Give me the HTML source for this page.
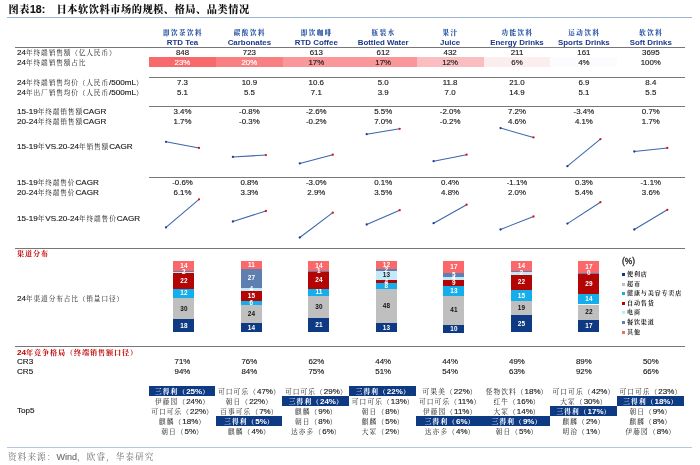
<!DOCTYPE html><html lang="zh"><head><meta charset="utf-8"><title>图表18</title><style>
html,body{margin:0;padding:0;background:#fff;}
body{width:700px;height:465px;position:relative;overflow:hidden;font-family:"Liberation Sans", "Noto Serif CJK SC", sans-serif;color:#1a1a1a;-webkit-text-stroke:0.15px currentColor;}
.t{position:absolute;white-space:nowrap;line-height:10px;height:10px;font-size:8.1px;}
.l{left:17px;}
.c{text-align:center;width:67px;font-size:7.9px;}
.ln{position:absolute;height:1px;background:#777;}
.hz{color:#2a55a5;font-weight:bold;-webkit-text-stroke:0;text-indent:1px;}
.he{color:#1c3a8c;font-weight:bold;font-size:7.9px;-webkit-text-stroke:0;}
.red{color:#c00000;font-weight:bold;-webkit-text-stroke:0;}
.seg{position:absolute;width:21px;}
.sl{position:absolute;width:21px;text-align:center;font-size:6.4px;font-weight:bold;line-height:8px;height:8px;-webkit-text-stroke:0;}
.hl{position:absolute;background:#0e3a83;}
.w{color:#fff;font-weight:bold;-webkit-text-stroke:0;}
.lg{position:absolute;font-size:7.2px;line-height:10px;height:10px;white-space:nowrap;left:627px;}
.k{font-weight:inherit;font-size:6.7px;letter-spacing:0.85px;-webkit-text-stroke:0;}
.red .k{font-size:7.1px;letter-spacing:0.9px;}
.t5{font-size:8px;}
.t5 .k{letter-spacing:1.1px;}
.hz .k{font-size:6.5px;letter-spacing:1.55px;font-weight:900;}
.ti .k{font-size:10.2px;letter-spacing:0.55px;font-weight:900;}
.src .k{font-size:8.6px;letter-spacing:1.1px;}
.lg .k{font-size:6.1px;letter-spacing:0.8px;font-weight:700;}
.lg i{position:absolute;left:-5.5px;top:3.5px;width:3px;height:3px;}

</style></head><body>
<div class="t ti" style="left:8.5px;top:2.4px;font-size:10.5px;line-height:14px;height:14px;font-weight:bold;color:#111"><b class="k">图表</b>18:</div>
<div class="t ti" style="left:56.5px;top:2.4px;font-size:10.5px;line-height:14px;height:14px;font-weight:bold;color:#111"><b class="k">日本软饮料市场的规模、格局、品类情况</b></div>
<div class="ln" style="left:7px;width:685px;top:16.6px;background:#9db4d3"></div>
<div class="ln" style="left:7px;width:685px;top:446.5px;background:#b5c7e0"></div>
<div class="t src" style="left:8px;top:450.5px;font-size:9px;line-height:12px;height:12px;color:#707070"><b class="k">资料来源：</b>Wind<b class="k">，欧睿，华泰研究</b></div>
<div class="ln" style="left:15px;width:669.5px;top:46.8px"></div>
<div class="ln" style="left:149px;width:535.5px;top:76.9px"></div>
<div class="ln" style="left:149px;width:535.5px;top:106.3px"></div>
<div class="ln" style="left:149px;width:535.5px;top:177.1px"></div>
<div class="ln" style="left:15px;width:669.5px;top:247.8px"></div>
<div class="ln" style="left:15px;width:669.5px;top:345.8px"></div>
<div class="t c hz" style="left:149.0px;top:28px"><b class="k">即饮茶饮料</b></div>
<div class="t c he" style="left:149.0px;top:38px">RTD Tea</div>
<div class="t c hz" style="left:215.9px;top:28px"><b class="k">碳酸饮料</b></div>
<div class="t c he" style="left:215.9px;top:38px">Carbonates</div>
<div class="t c hz" style="left:282.8px;top:28px"><b class="k">即饮咖啡</b></div>
<div class="t c he" style="left:282.8px;top:38px">RTD Coffee</div>
<div class="t c hz" style="left:349.7px;top:28px"><b class="k">瓶装水</b></div>
<div class="t c he" style="left:349.7px;top:38px">Bottled Water</div>
<div class="t c hz" style="left:416.6px;top:28px"><b class="k">果汁</b></div>
<div class="t c he" style="left:416.6px;top:38px">Juice</div>
<div class="t c hz" style="left:483.5px;top:28px"><b class="k">功能饮料</b></div>
<div class="t c he" style="left:483.5px;top:38px">Energy Drinks</div>
<div class="t c hz" style="left:550.4px;top:28px"><b class="k">运动饮料</b></div>
<div class="t c he" style="left:550.4px;top:38px">Sports Drinks</div>
<div class="t c hz" style="left:617.3px;top:28px"><b class="k">软饮料</b></div>
<div class="t c he" style="left:617.3px;top:38px">Soft Drinks</div>
<div style="position:absolute;left:149.0px;top:57.4px;width:67.0px;height:9.7px;background:#F8696B"></div>
<div style="position:absolute;left:215.9px;top:57.4px;width:67.0px;height:9.7px;background:#F98082"></div>
<div style="position:absolute;left:282.8px;top:57.4px;width:67.0px;height:9.7px;background:#F9979A"></div>
<div style="position:absolute;left:349.7px;top:57.4px;width:67.0px;height:9.7px;background:#F9979A"></div>
<div style="position:absolute;left:416.6px;top:57.4px;width:67.0px;height:9.7px;background:#FABEC1"></div>
<div style="position:absolute;left:483.5px;top:57.4px;width:67.0px;height:9.7px;background:#FCEDEF"></div>
<div style="position:absolute;left:550.4px;top:57.4px;width:67.0px;height:9.7px;background:#FCFCFF"></div>
<div class="t l" style="top:48px">24<b class="k">年终端销售额（亿人民币）</b></div>
<div class="t c" style="left:149.0px;top:48px">848</div>
<div class="t c" style="left:215.9px;top:48px">723</div>
<div class="t c" style="left:282.8px;top:48px">613</div>
<div class="t c" style="left:349.7px;top:48px">612</div>
<div class="t c" style="left:416.6px;top:48px">432</div>
<div class="t c" style="left:483.5px;top:48px">211</div>
<div class="t c" style="left:550.4px;top:48px">161</div>
<div class="t c" style="left:617.3px;top:48px">3695</div>
<div class="t l" style="top:58px">24<b class="k">年终端销售额占比</b></div>
<div class="t c" style="left:149.0px;top:58px;color:#fff">23%</div>
<div class="t c" style="left:215.9px;top:58px;color:#fff">20%</div>
<div class="t c" style="left:282.8px;top:58px">17%</div>
<div class="t c" style="left:349.7px;top:58px">17%</div>
<div class="t c" style="left:416.6px;top:58px">12%</div>
<div class="t c" style="left:483.5px;top:58px">6%</div>
<div class="t c" style="left:550.4px;top:58px">4%</div>
<div class="t c" style="left:617.3px;top:58px">100%</div>
<div class="t l" style="top:78px">24<b class="k">年终端销售均价（人民币</b>/500mL<b class="k">）</b></div>
<div class="t c" style="left:149.0px;top:78px">7.3</div>
<div class="t c" style="left:215.9px;top:78px">10.9</div>
<div class="t c" style="left:282.8px;top:78px">10.6</div>
<div class="t c" style="left:349.7px;top:78px">5.0</div>
<div class="t c" style="left:416.6px;top:78px">11.8</div>
<div class="t c" style="left:483.5px;top:78px">21.0</div>
<div class="t c" style="left:550.4px;top:78px">6.9</div>
<div class="t c" style="left:617.3px;top:78px">8.4</div>
<div class="t l" style="top:88px">24<b class="k">年出厂销售均价（人民币</b>/500mL<b class="k">）</b></div>
<div class="t c" style="left:149.0px;top:88px">5.1</div>
<div class="t c" style="left:215.9px;top:88px">5.5</div>
<div class="t c" style="left:282.8px;top:88px">7.1</div>
<div class="t c" style="left:349.7px;top:88px">3.9</div>
<div class="t c" style="left:416.6px;top:88px">7.0</div>
<div class="t c" style="left:483.5px;top:88px">14.9</div>
<div class="t c" style="left:550.4px;top:88px">5.1</div>
<div class="t c" style="left:617.3px;top:88px">5.5</div>
<div class="t l" style="top:107px">15-19<b class="k">年终端销售额</b>CAGR</div>
<div class="t c" style="left:149.0px;top:107px">3.4%</div>
<div class="t c" style="left:215.9px;top:107px">-0.8%</div>
<div class="t c" style="left:282.8px;top:107px">-2.6%</div>
<div class="t c" style="left:349.7px;top:107px">5.5%</div>
<div class="t c" style="left:416.6px;top:107px">-2.0%</div>
<div class="t c" style="left:483.5px;top:107px">7.2%</div>
<div class="t c" style="left:550.4px;top:107px">-3.4%</div>
<div class="t c" style="left:617.3px;top:107px">0.7%</div>
<div class="t l" style="top:117px">20-24<b class="k">年终端销售额</b>CAGR</div>
<div class="t c" style="left:149.0px;top:117px">1.7%</div>
<div class="t c" style="left:215.9px;top:117px">-0.3%</div>
<div class="t c" style="left:282.8px;top:117px">-0.2%</div>
<div class="t c" style="left:349.7px;top:117px">7.0%</div>
<div class="t c" style="left:416.6px;top:117px">-0.2%</div>
<div class="t c" style="left:483.5px;top:117px">4.6%</div>
<div class="t c" style="left:550.4px;top:117px">4.1%</div>
<div class="t c" style="left:617.3px;top:117px">1.7%</div>
<div class="t l" style="top:142px">15-19<b class="k">年</b>VS.20-24<b class="k">年销售额</b>CAGR</div>
<div class="t l" style="top:178px">15-19<b class="k">年终端售价</b>CAGR</div>
<div class="t c" style="left:149.0px;top:178px">-0.6%</div>
<div class="t c" style="left:215.9px;top:178px">0.8%</div>
<div class="t c" style="left:282.8px;top:178px">-3.0%</div>
<div class="t c" style="left:349.7px;top:178px">0.1%</div>
<div class="t c" style="left:416.6px;top:178px">0.4%</div>
<div class="t c" style="left:483.5px;top:178px">-1.1%</div>
<div class="t c" style="left:550.4px;top:178px">0.3%</div>
<div class="t c" style="left:617.3px;top:178px">-1.1%</div>
<div class="t l" style="top:188px">20-24<b class="k">年终端售价</b>CAGR</div>
<div class="t c" style="left:149.0px;top:188px">6.1%</div>
<div class="t c" style="left:215.9px;top:188px">3.3%</div>
<div class="t c" style="left:282.8px;top:188px">2.9%</div>
<div class="t c" style="left:349.7px;top:188px">3.5%</div>
<div class="t c" style="left:416.6px;top:188px">4.8%</div>
<div class="t c" style="left:483.5px;top:188px">2.0%</div>
<div class="t c" style="left:550.4px;top:188px">5.4%</div>
<div class="t c" style="left:617.3px;top:188px">3.6%</div>
<div class="t l" style="top:214px">15-19<b class="k">年</b>VS.20-24<b class="k">年终端售价</b>CAGR</div>
<div class="t l" style="top:249px"><span class="red"><b class="k">渠道分布</b></span></div>
<div class="t l" style="top:294px">24<b class="k">年渠道分布占比（销量口径）</b></div>
<div class="t l" style="top:348px"><span class="red">24<b class="k">年竞争格局（终端销售额口径）</b></span></div>
<div class="t l" style="top:357px">CR3</div>
<div class="t c" style="left:149.0px;top:357px">71%</div>
<div class="t c" style="left:215.9px;top:357px">76%</div>
<div class="t c" style="left:282.8px;top:357px">62%</div>
<div class="t c" style="left:349.7px;top:357px">44%</div>
<div class="t c" style="left:416.6px;top:357px">44%</div>
<div class="t c" style="left:483.5px;top:357px">49%</div>
<div class="t c" style="left:550.4px;top:357px">89%</div>
<div class="t c" style="left:617.3px;top:357px">50%</div>
<div class="t l" style="top:367px">CR5</div>
<div class="t c" style="left:149.0px;top:367px">94%</div>
<div class="t c" style="left:215.9px;top:367px">84%</div>
<div class="t c" style="left:282.8px;top:367px">75%</div>
<div class="t c" style="left:349.7px;top:367px">51%</div>
<div class="t c" style="left:416.6px;top:367px">54%</div>
<div class="t c" style="left:483.5px;top:367px">63%</div>
<div class="t c" style="left:550.4px;top:367px">92%</div>
<div class="t c" style="left:617.3px;top:367px">66%</div>
<div class="t l" style="top:406px">Top5</div>
<svg width="700" height="465" viewBox="0 0 700 465" style="position:absolute;left:0;top:0">
<line x1="166.0" y1="141.8" x2="199.0" y2="147.9" stroke="#3a66ad" stroke-width="1.05"/>
<circle cx="166.0" cy="141.8" r="1.15" fill="#1f3f8f"/>
<circle cx="199.0" cy="147.9" r="1.15" fill="#d8141c"/>
<line x1="166.0" y1="227.4" x2="199.0" y2="199.3" stroke="#3a66ad" stroke-width="1.05"/>
<circle cx="166.0" cy="227.4" r="1.15" fill="#1f3f8f"/>
<circle cx="199.0" cy="199.3" r="1.15" fill="#d8141c"/>
<line x1="232.9" y1="156.9" x2="265.9" y2="155.1" stroke="#3a66ad" stroke-width="1.05"/>
<circle cx="232.9" cy="156.9" r="1.15" fill="#1f3f8f"/>
<circle cx="265.9" cy="155.1" r="1.15" fill="#d8141c"/>
<line x1="232.9" y1="221.5" x2="265.9" y2="211.0" stroke="#3a66ad" stroke-width="1.05"/>
<circle cx="232.9" cy="221.5" r="1.15" fill="#1f3f8f"/>
<circle cx="265.9" cy="211.0" r="1.15" fill="#d8141c"/>
<line x1="299.8" y1="163.4" x2="332.8" y2="154.7" stroke="#3a66ad" stroke-width="1.05"/>
<circle cx="299.8" cy="163.4" r="1.15" fill="#1f3f8f"/>
<circle cx="332.8" cy="154.7" r="1.15" fill="#d8141c"/>
<line x1="299.8" y1="237.5" x2="332.8" y2="212.7" stroke="#3a66ad" stroke-width="1.05"/>
<circle cx="299.8" cy="237.5" r="1.15" fill="#1f3f8f"/>
<circle cx="332.8" cy="212.7" r="1.15" fill="#d8141c"/>
<line x1="366.7" y1="134.2" x2="399.7" y2="128.8" stroke="#3a66ad" stroke-width="1.05"/>
<circle cx="366.7" cy="134.2" r="1.15" fill="#1f3f8f"/>
<circle cx="399.7" cy="128.8" r="1.15" fill="#d8141c"/>
<line x1="366.7" y1="224.5" x2="399.7" y2="210.2" stroke="#3a66ad" stroke-width="1.05"/>
<circle cx="366.7" cy="224.5" r="1.15" fill="#1f3f8f"/>
<circle cx="399.7" cy="210.2" r="1.15" fill="#d8141c"/>
<line x1="433.6" y1="161.2" x2="466.6" y2="154.7" stroke="#3a66ad" stroke-width="1.05"/>
<circle cx="433.6" cy="161.2" r="1.15" fill="#1f3f8f"/>
<circle cx="466.6" cy="154.7" r="1.15" fill="#d8141c"/>
<line x1="433.6" y1="223.2" x2="466.6" y2="204.7" stroke="#3a66ad" stroke-width="1.05"/>
<circle cx="433.6" cy="223.2" r="1.15" fill="#1f3f8f"/>
<circle cx="466.6" cy="204.7" r="1.15" fill="#d8141c"/>
<line x1="500.5" y1="128.1" x2="533.5" y2="137.4" stroke="#3a66ad" stroke-width="1.05"/>
<circle cx="500.5" cy="128.1" r="1.15" fill="#1f3f8f"/>
<circle cx="533.5" cy="137.4" r="1.15" fill="#d8141c"/>
<line x1="500.5" y1="229.5" x2="533.5" y2="216.5" stroke="#3a66ad" stroke-width="1.05"/>
<circle cx="500.5" cy="229.5" r="1.15" fill="#1f3f8f"/>
<circle cx="533.5" cy="216.5" r="1.15" fill="#d8141c"/>
<line x1="567.4" y1="166.2" x2="600.4" y2="139.2" stroke="#3a66ad" stroke-width="1.05"/>
<circle cx="567.4" cy="166.2" r="1.15" fill="#1f3f8f"/>
<circle cx="600.4" cy="139.2" r="1.15" fill="#d8141c"/>
<line x1="567.4" y1="223.6" x2="600.4" y2="202.2" stroke="#3a66ad" stroke-width="1.05"/>
<circle cx="567.4" cy="223.6" r="1.15" fill="#1f3f8f"/>
<circle cx="600.4" cy="202.2" r="1.15" fill="#d8141c"/>
<line x1="634.3" y1="151.5" x2="667.3" y2="147.9" stroke="#3a66ad" stroke-width="1.05"/>
<circle cx="634.3" cy="151.5" r="1.15" fill="#1f3f8f"/>
<circle cx="667.3" cy="147.9" r="1.15" fill="#d8141c"/>
<line x1="634.3" y1="229.5" x2="667.3" y2="209.8" stroke="#3a66ad" stroke-width="1.05"/>
<circle cx="634.3" cy="229.5" r="1.15" fill="#1f3f8f"/>
<circle cx="667.3" cy="209.8" r="1.15" fill="#d8141c"/>
</svg>
<div class="seg" style="left:173.4px;top:319.47px;height:13.03px;background:#0e3a83"></div>
<div class="seg" style="left:173.4px;top:297.76px;height:21.71px;background:#bfbfbf"></div>
<div class="seg" style="left:173.4px;top:289.07px;height:8.69px;background:#14aeec"></div>
<div class="seg" style="left:173.4px;top:273.15px;height:15.92px;background:#b40505"></div>
<div class="seg" style="left:173.4px;top:271.34px;height:1.81px;background:#c3e8f8"></div>
<div class="seg" style="left:173.4px;top:270.83px;height:0.51px;background:#5f7fb0"></div>
<div class="seg" style="left:173.4px;top:260.70px;height:10.13px;background:#fa6869"></div>
<div class="seg" style="left:240.9px;top:322.55px;height:9.95px;background:#0e3a83"></div>
<div class="seg" style="left:240.9px;top:305.49px;height:17.06px;background:#bfbfbf"></div>
<div class="seg" style="left:240.9px;top:301.22px;height:4.27px;background:#14aeec"></div>
<div class="seg" style="left:240.9px;top:290.56px;height:10.66px;background:#b40505"></div>
<div class="seg" style="left:240.9px;top:287.71px;height:2.84px;background:#c3e8f8"></div>
<div class="seg" style="left:240.9px;top:268.52px;height:19.19px;background:#5f7fb0"></div>
<div class="seg" style="left:240.9px;top:260.70px;height:7.82px;background:#fa6869"></div>
<div class="seg" style="left:308.4px;top:317.63px;height:14.87px;background:#0e3a83"></div>
<div class="seg" style="left:308.4px;top:296.39px;height:21.24px;background:#bfbfbf"></div>
<div class="seg" style="left:308.4px;top:288.60px;height:7.79px;background:#14aeec"></div>
<div class="seg" style="left:308.4px;top:271.60px;height:16.99px;background:#b40505"></div>
<div class="seg" style="left:308.4px;top:270.61px;height:0.99px;background:#5f7fb0"></div>
<div class="seg" style="left:308.4px;top:260.70px;height:9.91px;background:#fa6869"></div>
<div class="seg" style="left:375.9px;top:323.17px;height:9.33px;background:#0e3a83"></div>
<div class="seg" style="left:375.9px;top:288.70px;height:34.46px;background:#bfbfbf"></div>
<div class="seg" style="left:375.9px;top:282.96px;height:5.74px;background:#14aeec"></div>
<div class="seg" style="left:375.9px;top:280.09px;height:2.87px;background:#b40505"></div>
<div class="seg" style="left:375.9px;top:270.75px;height:9.33px;background:#c3e8f8"></div>
<div class="seg" style="left:375.9px;top:269.32px;height:1.44px;background:#5f7fb0"></div>
<div class="seg" style="left:375.9px;top:260.70px;height:8.62px;background:#fa6869"></div>
<div class="seg" style="left:443.4px;top:325.25px;height:7.25px;background:#0e3a83"></div>
<div class="seg" style="left:443.4px;top:295.51px;height:29.74px;background:#bfbfbf"></div>
<div class="seg" style="left:443.4px;top:286.08px;height:9.43px;background:#14aeec"></div>
<div class="seg" style="left:443.4px;top:279.56px;height:6.53px;background:#b40505"></div>
<div class="seg" style="left:443.4px;top:276.66px;height:2.90px;background:#c3e8f8"></div>
<div class="seg" style="left:443.4px;top:273.03px;height:3.63px;background:#5f7fb0"></div>
<div class="seg" style="left:443.4px;top:260.70px;height:12.33px;background:#fa6869"></div>
<div class="seg" style="left:510.9px;top:314.64px;height:17.86px;background:#0e3a83"></div>
<div class="seg" style="left:510.9px;top:301.07px;height:13.57px;background:#bfbfbf"></div>
<div class="seg" style="left:510.9px;top:290.35px;height:10.72px;background:#14aeec"></div>
<div class="seg" style="left:510.9px;top:274.63px;height:15.72px;background:#b40505"></div>
<div class="seg" style="left:510.9px;top:271.77px;height:2.86px;background:#c3e8f8"></div>
<div class="seg" style="left:510.9px;top:270.70px;height:1.07px;background:#5f7fb0"></div>
<div class="seg" style="left:510.9px;top:260.70px;height:10.00px;background:#fa6869"></div>
<div class="seg" style="left:578.4px;top:320.29px;height:12.21px;background:#0e3a83"></div>
<div class="seg" style="left:578.4px;top:304.50px;height:15.80px;background:#bfbfbf"></div>
<div class="seg" style="left:578.4px;top:294.45px;height:10.05px;background:#14aeec"></div>
<div class="seg" style="left:578.4px;top:273.62px;height:20.82px;background:#b40505"></div>
<div class="seg" style="left:578.4px;top:272.91px;height:0.72px;background:#5f7fb0"></div>
<div class="seg" style="left:578.4px;top:260.70px;height:12.21px;background:#fa6869"></div>
<div class="sl" style="left:173.4px;top:321.99px;color:#fff">18</div>
<div class="sl" style="left:173.4px;top:304.61px;color:#111">30</div>
<div class="sl" style="left:173.4px;top:289.42px;color:#fff">12</div>
<div class="sl" style="left:173.4px;top:277.11px;color:#fff">22</div>
<div class="sl" style="left:173.4px;top:268.24px;color:#fff">2</div>
<div class="sl" style="left:173.4px;top:261.77px;color:#fff">14</div>
<div class="sl" style="left:240.9px;top:323.52px;color:#fff">14</div>
<div class="sl" style="left:240.9px;top:310.02px;color:#111">24</div>
<div class="sl" style="left:240.9px;top:299.35px;color:#fff">6</div>
<div class="sl" style="left:240.9px;top:291.89px;color:#fff">15</div>
<div class="sl" style="left:240.9px;top:285.14px;color:#fff">4</div>
<div class="sl" style="left:240.9px;top:274.12px;color:#fff">27</div>
<div class="sl" style="left:240.9px;top:260.61px;color:#fff">11</div>
<div class="sl" style="left:308.4px;top:321.07px;color:#fff">21</div>
<div class="sl" style="left:308.4px;top:303.01px;color:#111">30</div>
<div class="sl" style="left:308.4px;top:288.49px;color:#fff">11</div>
<div class="sl" style="left:308.4px;top:276.10px;color:#fff">24</div>
<div class="sl" style="left:308.4px;top:267.11px;color:#fff">1</div>
<div class="sl" style="left:308.4px;top:261.66px;color:#fff">14</div>
<div class="sl" style="left:375.9px;top:323.83px;color:#fff">13</div>
<div class="sl" style="left:375.9px;top:301.93px;color:#111">48</div>
<div class="sl" style="left:375.9px;top:281.83px;color:#fff">8</div>
<div class="sl" style="left:375.9px;top:277.52px;color:#fff">4</div>
<div class="sl" style="left:375.9px;top:271.42px;color:#222">13</div>
<div class="sl" style="left:375.9px;top:266.03px;color:#fff">2</div>
<div class="sl" style="left:375.9px;top:261.01px;color:#fff">12</div>
<div class="sl" style="left:443.4px;top:324.87px;color:#fff">10</div>
<div class="sl" style="left:443.4px;top:306.38px;color:#111">41</div>
<div class="sl" style="left:443.4px;top:286.80px;color:#fff">13</div>
<div class="sl" style="left:443.4px;top:278.82px;color:#fff">9</div>
<div class="sl" style="left:443.4px;top:274.11px;color:#fff">4</div>
<div class="sl" style="left:443.4px;top:270.84px;color:#fff">5</div>
<div class="sl" style="left:443.4px;top:262.86px;color:#fff">17</div>
<div class="sl" style="left:510.9px;top:319.57px;color:#fff">25</div>
<div class="sl" style="left:510.9px;top:303.85px;color:#111">19</div>
<div class="sl" style="left:510.9px;top:291.71px;color:#fff">15</div>
<div class="sl" style="left:510.9px;top:278.49px;color:#fff">22</div>
<div class="sl" style="left:510.9px;top:269.20px;color:#fff">2</div>
<div class="sl" style="left:510.9px;top:261.70px;color:#fff">14</div>
<div class="sl" style="left:578.4px;top:322.40px;color:#fff">17</div>
<div class="sl" style="left:578.4px;top:308.40px;color:#111">22</div>
<div class="sl" style="left:578.4px;top:295.47px;color:#fff">14</div>
<div class="sl" style="left:578.4px;top:280.03px;color:#fff">29</div>
<div class="sl" style="left:578.4px;top:269.26px;color:#fff">0</div>
<div class="sl" style="left:578.4px;top:262.80px;color:#fff">17</div>
<div class="t" style="left:622px;top:256px;font-size:8.3px;-webkit-text-stroke:0.3px currentColor">(%)</div>
<div class="lg" style="top:269px"><i style="background:#0e3a83"></i><b class="k">便利店</b></div>
<div class="lg" style="top:279px"><i style="background:#bfbfbf"></i><b class="k">超市</b></div>
<div class="lg" style="top:288px"><i style="background:#14aeec"></i><b class="k">健康与美容专卖店</b></div>
<div class="lg" style="top:298px"><i style="background:#b40505"></i><b class="k">自动售货</b></div>
<div class="lg" style="top:307px"><i style="background:#c3e8f8"></i><b class="k">电商</b></div>
<div class="lg" style="top:317px"><i style="background:#5f7fb0"></i><b class="k">餐饮渠道</b></div>
<div class="lg" style="top:327px"><i style="background:#fa6869"></i><b class="k">其他</b></div>
<div class="hl" style="left:148.6px;top:386.3px;width:66.9px;height:9.6px"></div>
<div class="t c t5 w" style="left:149.0px;top:387px"><b class="k">三得利（</b>25%<b class="k">）</b></div>
<div class="t c t5" style="left:149.0px;top:397px"><b class="k">伊藤园（</b>24%<b class="k">）</b></div>
<div class="t c t5" style="left:149.0px;top:407px"><b class="k">可口可乐（</b>22%<b class="k">）</b></div>
<div class="t c t5" style="left:149.0px;top:417px"><b class="k">麒麟（</b>18%<b class="k">）</b></div>
<div class="t c t5" style="left:149.0px;top:427px"><b class="k">朝日（</b>5%<b class="k">）</b></div>
<div class="t c t5" style="left:215.9px;top:387px"><b class="k">可口可乐（</b>47%<b class="k">）</b></div>
<div class="t c t5" style="left:215.9px;top:397px"><b class="k">朝日（</b>22%<b class="k">）</b></div>
<div class="t c t5" style="left:215.9px;top:407px"><b class="k">百事可乐（</b>7%<b class="k">）</b></div>
<div class="hl" style="left:215.5px;top:416.3px;width:66.9px;height:9.6px"></div>
<div class="t c t5 w" style="left:215.9px;top:417px"><b class="k">三得利（</b>5%<b class="k">）</b></div>
<div class="t c t5" style="left:215.9px;top:427px"><b class="k">麒麟（</b>4%<b class="k">）</b></div>
<div class="t c t5" style="left:282.8px;top:387px"><b class="k">可口可乐（</b>29%<b class="k">）</b></div>
<div class="hl" style="left:282.4px;top:396.3px;width:66.9px;height:9.6px"></div>
<div class="t c t5 w" style="left:282.8px;top:397px"><b class="k">三得利（</b>24%<b class="k">）</b></div>
<div class="t c t5" style="left:282.8px;top:407px"><b class="k">麒麟（</b>9%<b class="k">）</b></div>
<div class="t c t5" style="left:282.8px;top:417px"><b class="k">朝日（</b>8%<b class="k">）</b></div>
<div class="t c t5" style="left:282.8px;top:427px"><b class="k">达亦多（</b>6%<b class="k">）</b></div>
<div class="hl" style="left:349.3px;top:386.3px;width:66.9px;height:9.6px"></div>
<div class="t c t5 w" style="left:349.7px;top:387px"><b class="k">三得利（</b>22%<b class="k">）</b></div>
<div class="t c t5" style="left:349.7px;top:397px"><b class="k">可口可乐（</b>13%<b class="k">）</b></div>
<div class="t c t5" style="left:349.7px;top:407px"><b class="k">朝日（</b>8%<b class="k">）</b></div>
<div class="t c t5" style="left:349.7px;top:417px"><b class="k">麒麟（</b>5%<b class="k">）</b></div>
<div class="t c t5" style="left:349.7px;top:427px"><b class="k">大冢（</b>2%<b class="k">）</b></div>
<div class="t c t5" style="left:416.6px;top:387px"><b class="k">可果美（</b>22%<b class="k">）</b></div>
<div class="t c t5" style="left:416.6px;top:397px"><b class="k">可口可乐（</b>11%<b class="k">）</b></div>
<div class="t c t5" style="left:416.6px;top:407px"><b class="k">伊藤园（</b>11%<b class="k">）</b></div>
<div class="hl" style="left:416.2px;top:416.3px;width:66.9px;height:9.6px"></div>
<div class="t c t5 w" style="left:416.6px;top:417px"><b class="k">三得利（</b>6%<b class="k">）</b></div>
<div class="t c t5" style="left:416.6px;top:427px"><b class="k">达亦多（</b>4%<b class="k">）</b></div>
<div class="t c t5" style="left:483.5px;top:387px"><b class="k">怪物饮料（</b>18%<b class="k">）</b></div>
<div class="t c t5" style="left:483.5px;top:397px"><b class="k">红牛（</b>16%<b class="k">）</b></div>
<div class="t c t5" style="left:483.5px;top:407px"><b class="k">大冢（</b>14%<b class="k">）</b></div>
<div class="hl" style="left:483.1px;top:416.3px;width:66.9px;height:9.6px"></div>
<div class="t c t5 w" style="left:483.5px;top:417px"><b class="k">三得利（</b>9%<b class="k">）</b></div>
<div class="t c t5" style="left:483.5px;top:427px"><b class="k">朝日（</b>5%<b class="k">）</b></div>
<div class="t c t5" style="left:550.4px;top:387px"><b class="k">可口可乐（</b>42%<b class="k">）</b></div>
<div class="t c t5" style="left:550.4px;top:397px"><b class="k">大冢（</b>30%<b class="k">）</b></div>
<div class="hl" style="left:550.0px;top:406.3px;width:66.9px;height:9.6px"></div>
<div class="t c t5 w" style="left:550.4px;top:407px"><b class="k">三得利（</b>17%<b class="k">）</b></div>
<div class="t c t5" style="left:550.4px;top:417px"><b class="k">麒麟（</b>2%<b class="k">）</b></div>
<div class="t c t5" style="left:550.4px;top:427px"><b class="k">明治（</b>1%<b class="k">）</b></div>
<div class="t c t5" style="left:617.3px;top:387px"><b class="k">可口可乐（</b>23%<b class="k">）</b></div>
<div class="hl" style="left:616.9px;top:396.3px;width:66.9px;height:9.6px"></div>
<div class="t c t5 w" style="left:617.3px;top:397px"><b class="k">三得利（</b>18%<b class="k">）</b></div>
<div class="t c t5" style="left:617.3px;top:407px"><b class="k">朝日（</b>9%<b class="k">）</b></div>
<div class="t c t5" style="left:617.3px;top:417px"><b class="k">麒麟（</b>8%<b class="k">）</b></div>
<div class="t c t5" style="left:617.3px;top:427px"><b class="k">伊藤园（</b>8%<b class="k">）</b></div>
</body></html>
